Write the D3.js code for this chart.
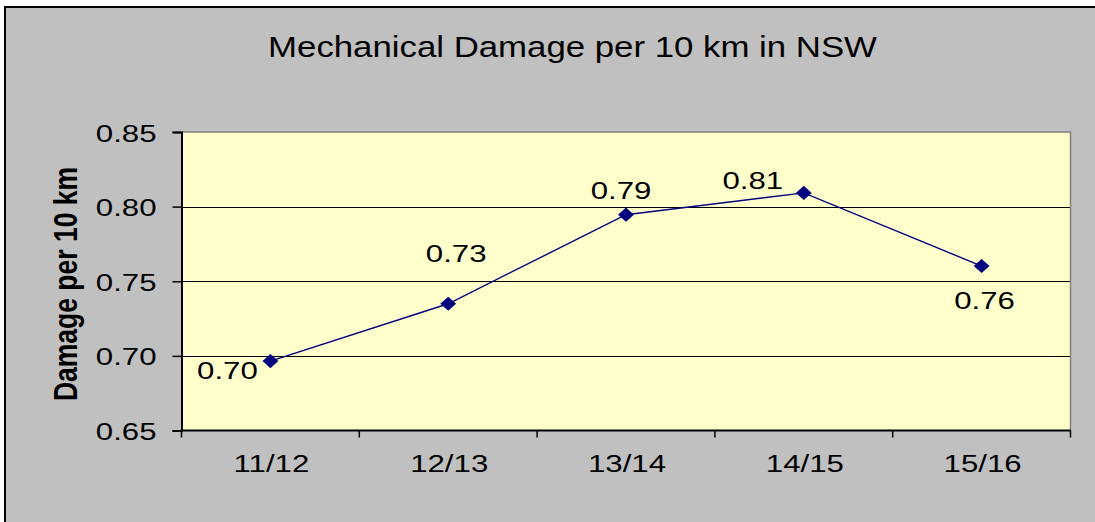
<!DOCTYPE html>
<html>
<head>
<meta charset="utf-8">
<script src="https://cdn.jsdelivr.net/npm/d3@7"></script>
<style>
  html, body { margin: 0; padding: 0; background: #ffffff; }
  svg { display: block; }
  text { font-family: Arial, "Liberation Sans", sans-serif; fill: #000; }
</style>
</head>
<body>
<svg id="chart" width="1095" height="522"></svg>
<script>
// ---- data ----
const categories = ["11/12", "12/13", "13/14", "14/15", "15/16"];
const damageValues = [0.6965, 0.7349, 0.7946, 0.8092, 0.7602];
const yTickValues = [0.65, 0.70, 0.75, 0.80, 0.85];
const chartTitle = "Mechanical Damage per 10 km in NSW";
const yAxisTitle = "Damage per 10 km";

// label placement (style, not data)
const labelOffsets = [[-43, 18], [8, -42], [-5, -16], [-51, -4], [3, 43]];

const W = 1095, H = 522;
const plot = { left: 181.5, right: 1070.5, top: 132, bottom: 430.5 };
const SX = 1.3; // horizontal text stretch of the original picture

const svg = d3.select("#chart");

// chart area background with border
svg.append("rect").attr("x", 0).attr("y", 0).attr("width", W).attr("height", H).attr("fill", "#ffffff");
svg.append("rect")
  .attr("x", 5).attr("y", 7).attr("width", W + 20).attr("height", H + 20)
  .attr("fill", "#c0c0c0").attr("stroke", "#000").attr("stroke-width", 2);

const x = d3.scaleBand().domain(categories).range([plot.left, plot.right]).padding(0);
const y = d3.scaleLinear().domain([0.65, 0.85]).range([plot.bottom, plot.top]);

// plot area
svg.append("rect")
  .attr("x", plot.left).attr("y", plot.top)
  .attr("width", plot.right - plot.left).attr("height", plot.bottom - plot.top)
  .attr("fill", "#ffffcc");

// gridlines
svg.append("g").selectAll("line").data(yTickValues.filter(v => v > 0.65 && v < 0.85)).join("line")
  .attr("x1", plot.left).attr("x2", plot.right)
  .attr("y1", d => Math.round(y(d)) + 0.5).attr("y2", d => Math.round(y(d)) + 0.5)
  .attr("stroke", "#000").attr("stroke-width", 1);

// gray top/right border
svg.append("path")
  .attr("d", `M${plot.left},${plot.top}H${plot.right}V${plot.bottom}`)
  .attr("fill", "none").attr("stroke", "#808080").attr("stroke-width", 1.5);

// y axis
const yAxis = d3.axisLeft(y).tickValues(yTickValues).tickSize(9).tickFormat(d3.format(".2f"));
const gy = svg.append("g").attr("transform", `translate(${plot.left},0)`).call(yAxis);
gy.select(".domain").attr("stroke", "#000").attr("stroke-width", 2);
gy.selectAll(".tick line").attr("stroke", "#000").attr("stroke-width", 1.5);
gy.selectAll(".tick text").remove();
gy.selectAll(".tick").append("text")
  .attr("transform", `translate(-25,9) scale(${SX},1)`)
  .attr("text-anchor", "end")
  .style("font-size", "24px")
  .text(d => d3.format(".2f")(d));

// x axis: ticks at band boundaries
const gx = svg.append("g");
gx.append("line").attr("x1", plot.left - 1).attr("x2", plot.right)
  .attr("y1", plot.bottom).attr("y2", plot.bottom)
  .attr("stroke", "#000").attr("stroke-width", 2);
const boundaries = categories.map(c => x(c)).concat([x(categories[categories.length - 1]) + x.bandwidth()]);
gx.selectAll("line.tk").data(boundaries).join("line").attr("class", "tk")
  .attr("x1", d => d).attr("x2", d => d)
  .attr("y1", plot.bottom).attr("y2", plot.bottom + 7)
  .attr("stroke", "#000").attr("stroke-width", 1.5);
gx.selectAll("text").data(categories).join("text")
  .attr("transform", d => `translate(${x(d) + x.bandwidth() / 2 + 1},471.5) scale(${SX},1)`)
  .attr("text-anchor", "middle")
  .style("font-size", "24px")
  .text(d => d);

// line
const pts = categories.map((c, i) => [x(c) + x.bandwidth() / 2, y(damageValues[i])]);
svg.append("path")
  .attr("d", d3.line()(pts))
  .attr("fill", "none").attr("stroke", "#000080").attr("stroke-width", 1.4);

// markers (diamonds)
const diamond = d3.symbol().type(d3.symbolSquare).size(100);
svg.append("g").selectAll("path").data(pts).join("path")
  .attr("transform", d => `translate(${d[0]},${d[1]}) scale(1.12,1) rotate(45)`)
  .attr("d", diamond)
  .attr("fill", "#000080");

// data labels
svg.append("g").selectAll("text").data(damageValues).join("text")
  .attr("transform", (d, i) => `translate(${pts[i][0] + labelOffsets[i][0]},${pts[i][1] + labelOffsets[i][1]}) scale(${SX},1)`)
  .attr("text-anchor", "middle")
  .style("font-size", "24px")
  .text(d => d3.format(".2f")(d));

// title
svg.append("text")
  .attr("transform", `translate(572.5,57.3) scale(1.16,1)`)
  .attr("text-anchor", "middle")
  .style("font-size", "30px")
  .text(chartTitle);

// y axis title
svg.append("text")
  .attr("transform", `translate(77,284) scale(1.28,1) rotate(-90)`)
  .attr("text-anchor", "middle")
  .style("font-size", "26.5px")
  .style("font-weight", "bold")
  .text(yAxisTitle);
</script>
</body>
</html>
